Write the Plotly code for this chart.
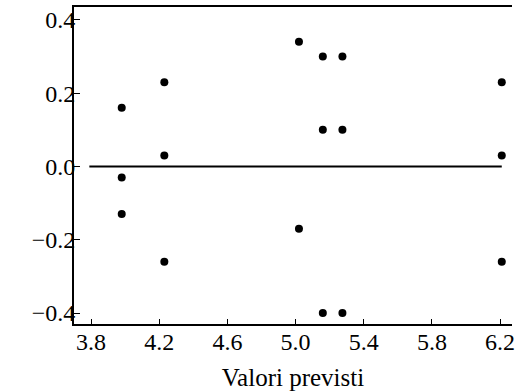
import plotly.graph_objects as go

# Residuals versus fitted values
fitted = [3.98, 3.98, 3.98, 4.23, 4.23, 4.23, 5.02, 5.02,
          5.16, 5.16, 5.16, 5.275, 5.275, 5.275, 6.21, 6.21, 6.21]
residuals = [0.16, -0.03, -0.13, 0.23, 0.03, -0.26, 0.34, -0.17,
             0.30, 0.10, -0.40, 0.30, 0.10, -0.40, 0.23, 0.03, -0.26]

zero_line_x = [3.79, 6.21]
zero_line_y = [0.0, 0.0]

x_ticks = [3.8, 4.2, 4.6, 5.0, 5.4, 5.8, 6.2]
x_tick_text = ["3.8", "4.2", "4.6", "5.0", "5.4", "5.8", "6.2"]
y_ticks = [-0.4, -0.2, 0.0, 0.2, 0.4]
y_tick_text = ["\u22120.4", "\u22120.2", "0.0", "0.2", "0.4"]

font_family = "Liberation Serif, Times New Roman, serif"

fig = go.Figure()
fig.add_trace(go.Scatter(
    x=zero_line_x, y=zero_line_y, mode="lines",
    line=dict(color="black", width=2), hoverinfo="skip", showlegend=False,
))
fig.add_trace(go.Scatter(
    x=fitted, y=residuals, mode="markers",
    marker=dict(color="black", size=8), showlegend=False,
))

fig.update_layout(
    width=515, height=391,
    margin=dict(l=74, r=0, t=7, b=67),
    paper_bgcolor="white", plot_bgcolor="white",
    font=dict(family=font_family, color="black", size=24),
    xaxis=dict(
        range=[3.70, 6.27], tickvals=x_ticks, ticktext=x_tick_text,
        showgrid=False, zeroline=False, showline=True, linecolor="black",
        linewidth=2, mirror=True, ticks="inside", ticklen=5, tickwidth=1,
        tickcolor="black", tickfont=dict(size=24), ticklabeloverflow="allow",
        ticklabelstandoff=-5,
        title=dict(text="Valori previsti", font=dict(size=25), standoff=15),
    ),
    yaxis=dict(
        range=[-0.43, 0.435], tickvals=y_ticks, ticktext=y_tick_text,
        showgrid=False, zeroline=False, showline=True, linecolor="black",
        linewidth=2, ticks="inside", ticklen=6, tickwidth=1,
        tickcolor="black", tickfont=dict(size=24), ticklabelstandoff=-8,
    ),
)

fig.write_html("out.html")
